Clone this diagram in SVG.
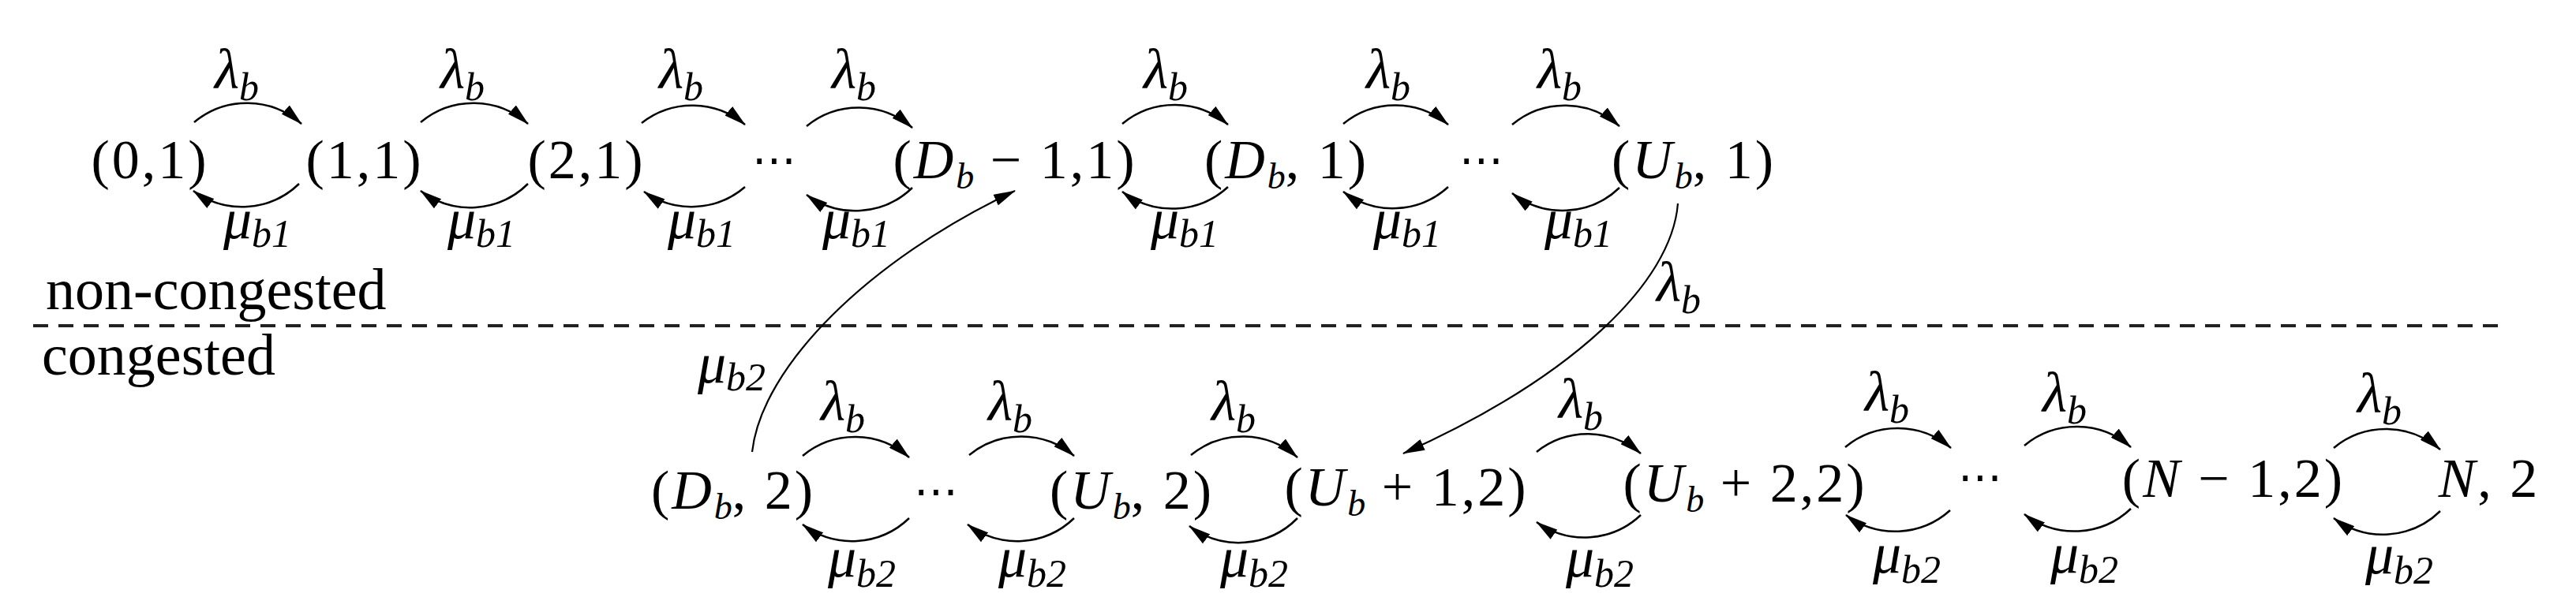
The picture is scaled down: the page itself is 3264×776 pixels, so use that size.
<svg xmlns="http://www.w3.org/2000/svg" width="3264" height="776" viewBox="0 0 3264 776">
<defs>
<marker id="ah" viewBox="0 0 28 15" refX="27" refY="7.5" markerWidth="28" markerHeight="15" markerUnits="userSpaceOnUse" orient="auto"><path d="M0,0 L28,7.5 L0,15 z" fill="#000"/></marker>
<style>
.n{font-family:'Liberation Serif','Times New Roman',serif;font-size:70px;letter-spacing:3px;fill:#000}
.i{font-style:italic}
.s{font-size:46px;letter-spacing:0}
.lab{font-family:'Liberation Serif','Times New Roman',serif;font-size:72px;font-style:italic;fill:#000}
.ls{font-size:50px}
.txt{font-family:'Liberation Serif','Times New Roman',serif;font-size:74px;fill:#000}
.dots{font-family:'DejaVu Sans',sans-serif;font-size:56px;fill:#000}
.arc{fill:none;stroke:#000;stroke-width:2.5;marker-end:url(#ah)}
.long{fill:none;stroke:#000;stroke-width:2.2;marker-end:url(#ah)}
.sep{stroke:#222;stroke-width:4;stroke-dasharray:19 13}
</style>
</defs>
<rect width="3264" height="776" fill="#fff"/>

<g id="region-labels">
<text class="txt" x="58" y="392">non-congested</text>
<line class="sep" x1="42" y1="413" x2="3177" y2="413"/>
<text class="txt" x="53" y="475">congested</text>
</g>

<g text-anchor="middle">
<g id="node-0-1"><text class="n" x="190" y="226">(0,1)</text></g>
<g id="node-1-1"><text class="n" x="462" y="226">(1,1)</text></g>
<g id="node-2-1"><text class="n" x="743" y="226">(2,1)</text></g>
<g id="dots-1"><text class="dots" x="981" y="222">⋯</text></g>
<g id="node-Db-1-1"><text class="n" x="1286" y="226">(<tspan class="i">D</tspan><tspan class="i s" dy="13">b</tspan><tspan dy="-13"> − 1,1)</tspan></text></g>
<g id="node-Db-1"><text class="n" x="1630" y="226">(<tspan class="i">D</tspan><tspan class="i s" dy="13">b</tspan><tspan dy="-13">, 1)</tspan></text></g>
<g id="dots-2"><text class="dots" x="1877" y="222">⋯</text></g>
<g id="node-Ub-1"><text class="n" x="2146" y="226">(<tspan class="i">U</tspan><tspan class="i s" dy="13">b</tspan><tspan dy="-13">, 1)</tspan></text></g>

<g id="node-Db-2"><text class="n" x="929" y="645">(<tspan class="i">D</tspan><tspan class="i s" dy="13">b</tspan><tspan dy="-13">, 2)</tspan></text></g>
<g id="dots-3"><text class="dots" x="1186" y="642">⋯</text></g>
<g id="node-Ub-2"><text class="n" x="1434" y="645">(<tspan class="i">U</tspan><tspan class="i s" dy="13">b</tspan><tspan dy="-13">, 2)</tspan></text></g>
<g id="node-Ub1-2"><text class="n" x="1782" y="641">(<tspan class="i">U</tspan><tspan class="i s" dy="13">b</tspan><tspan dy="-13"> + 1,2)</tspan></text></g>
<g id="node-Ub2-2"><text class="n" x="2211" y="636">(<tspan class="i">U</tspan><tspan class="i s" dy="13">b</tspan><tspan dy="-13"> + 2,2)</tspan></text></g>
<g id="dots-4"><text class="dots" x="2509" y="624">⋯</text></g>
<g id="node-N1-2"><text class="n" x="2830" y="630">(<tspan class="i">N</tspan> − 1,2)</text></g>
<g id="node-N-2"><text class="n" x="3154" y="630"><tspan class="i">N</tspan>, 2</text></g>
</g>

<g id="connectors">
<path class="arc" d="M246,155 A104,104 0 0 1 382,157"/>
<path class="arc" d="M533,155 A104,104 0 0 1 669,157"/>
<path class="arc" d="M813,156 A104,104 0 0 1 944,158"/>
<path class="arc" d="M1022,160 A104,104 0 0 1 1156,162"/>
<path class="arc" d="M1422,157 A104,104 0 0 1 1556,158"/>
<path class="arc" d="M1702,157 A104,104 0 0 1 1835,158"/>
<path class="arc" d="M1916,158 A104,104 0 0 1 2052,160"/>
<path class="arc" d="M379,233 A104,104 0 0 1 245,242"/>
<path class="arc" d="M669,233 A104,104 0 0 1 533,242"/>
<path class="arc" d="M944,237 A104,104 0 0 1 816,243"/>
<path class="arc" d="M1156,238 A104,104 0 0 1 1022,247"/>
<path class="arc" d="M1556,237 A104,104 0 0 1 1422,243"/>
<path class="arc" d="M1835,237 A104,104 0 0 1 1702,243"/>
<path class="arc" d="M2052,238 A104,104 0 0 1 1916,245"/>

<path class="arc" d="M1017,578 A104,104 0 0 1 1152,580"/>
<path class="arc" d="M1228,577 A104,104 0 0 1 1361,578"/>
<path class="arc" d="M1509,577 A104,104 0 0 1 1644,580"/>
<path class="arc" d="M1947,573 A104,104 0 0 1 2079,575"/>
<path class="arc" d="M2338,567 A104,104 0 0 1 2472,568"/>
<path class="arc" d="M2565,565 A104,104 0 0 1 2700,567"/>
<path class="arc" d="M2957,568 A104,104 0 0 1 3092,570"/>
<path class="arc" d="M1152,657 A104,104 0 0 1 1017,665"/>
<path class="arc" d="M1361,657 A104,104 0 0 1 1226,665"/>
<path class="arc" d="M1644,657 A104,104 0 0 1 1507,667"/>
<path class="arc" d="M2079,653 A104,104 0 0 1 1947,662"/>
<path class="arc" d="M2471,647 A104,104 0 0 1 2339,653"/>
<path class="arc" d="M2700,645 A104,104 0 0 1 2565,652"/>
<path class="arc" d="M3092,648 A104,104 0 0 1 2957,657"/>

<path class="long" d="M953,573 C965,465 1100,330 1286,242"/>
<path class="long" d="M2126,258 C2118,360 1990,480 1778,575"/>
</g>

<g id="edge-labels" text-anchor="middle">
<text class="lab" x="300" y="112">λ<tspan class="ls" dy="15">b</tspan></text>
<text class="lab" x="586" y="112">λ<tspan class="ls" dy="15">b</tspan></text>
<text class="lab" x="863" y="112">λ<tspan class="ls" dy="15">b</tspan></text>
<text class="lab" x="1082" y="112">λ<tspan class="ls" dy="15">b</tspan></text>
<text class="lab" x="1477" y="112">λ<tspan class="ls" dy="15">b</tspan></text>
<text class="lab" x="1759" y="112">λ<tspan class="ls" dy="15">b</tspan></text>
<text class="lab" x="1976" y="112">λ<tspan class="ls" dy="15">b</tspan></text>

<text class="lab" x="326" y="302">μ<tspan class="ls" dy="11">b1</tspan></text>
<text class="lab" x="610" y="302">μ<tspan class="ls" dy="11">b1</tspan></text>
<text class="lab" x="889" y="302">μ<tspan class="ls" dy="11">b1</tspan></text>
<text class="lab" x="1085" y="302">μ<tspan class="ls" dy="11">b1</tspan></text>
<text class="lab" x="1501" y="302">μ<tspan class="ls" dy="11">b1</tspan></text>
<text class="lab" x="1783" y="302">μ<tspan class="ls" dy="11">b1</tspan></text>
<text class="lab" x="2000" y="302">μ<tspan class="ls" dy="11">b1</tspan></text>

<text class="lab" x="1068" y="533">λ<tspan class="ls" dy="15">b</tspan></text>
<text class="lab" x="1280" y="533">λ<tspan class="ls" dy="15">b</tspan></text>
<text class="lab" x="1563" y="533">λ<tspan class="ls" dy="15">b</tspan></text>
<text class="lab" x="2003" y="530">λ<tspan class="ls" dy="15">b</tspan></text>
<text class="lab" x="2391" y="521">λ<tspan class="ls" dy="15">b</tspan></text>
<text class="lab" x="2616" y="522">λ<tspan class="ls" dy="15">b</tspan></text>
<text class="lab" x="3015" y="523">λ<tspan class="ls" dy="15">b</tspan></text>

<text class="lab" x="1092" y="731">μ<tspan class="ls" dy="13">b2</tspan></text>
<text class="lab" x="1308" y="731">μ<tspan class="ls" dy="13">b2</tspan></text>
<text class="lab" x="1589" y="731">μ<tspan class="ls" dy="13">b2</tspan></text>
<text class="lab" x="2027" y="731">μ<tspan class="ls" dy="13">b2</tspan></text>
<text class="lab" x="2416" y="726">μ<tspan class="ls" dy="13">b2</tspan></text>
<text class="lab" x="2641" y="726">μ<tspan class="ls" dy="13">b2</tspan></text>
<text class="lab" x="3040" y="727">μ<tspan class="ls" dy="13">b2</tspan></text>

<text class="lab" x="927" y="485">μ<tspan class="ls" dy="10">b2</tspan></text>
<text class="lab" x="2127" y="382">λ<tspan class="ls" dy="15">b</tspan></text>
</g>
</svg>
